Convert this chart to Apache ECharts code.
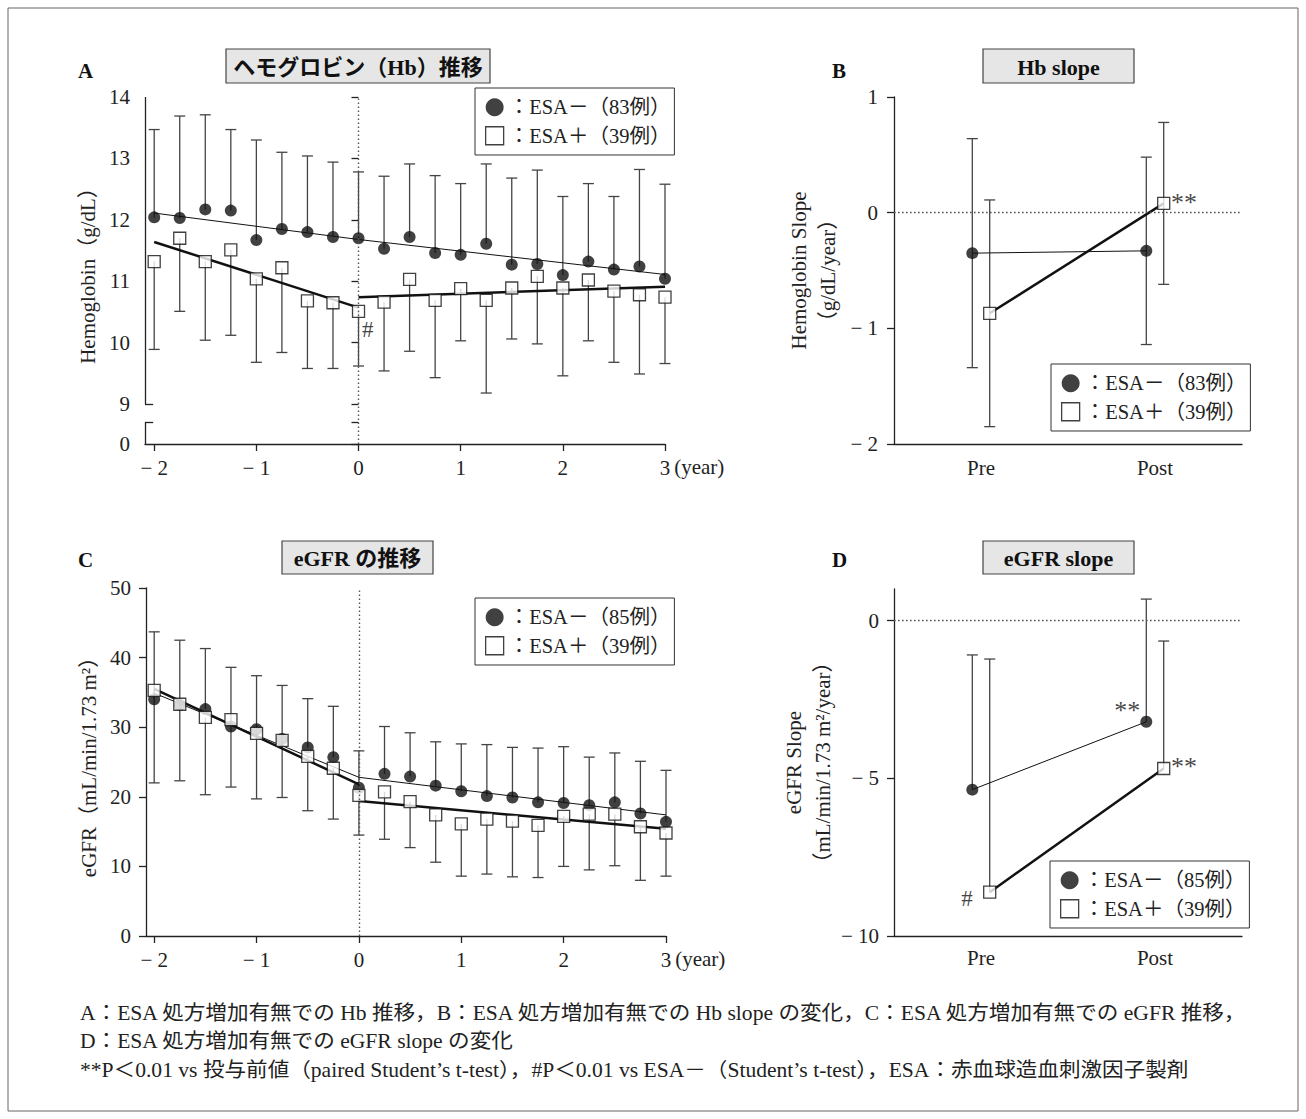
<!DOCTYPE html>
<html><head><meta charset="utf-8">
<script src="https://cdn.jsdelivr.net/npm/echarts@6.0.0/dist/echarts.min.js"></script>
<style>html,body{margin:0;padding:0;background:#fff}#c{width:1306px;height:1119px}</style>
</head><body><div id="c"></div>
<script>
// ---------------- data ----------------
const years = [-2,-1.75,-1.5,-1.25,-1,-0.75,-0.5,-0.25,0,0.25,0.5,0.75,1,1.25,1.5,1.75,2,2.25,2.5,2.75,3];
const yearTicks = [-2,-1,0,1,2,3];

const hbMinusMean = [12.04,12.03,12.17,12.15,11.67,11.85,11.80,11.72,11.70,11.53,11.72,11.46,11.43,11.61,11.27,11.28,11.10,11.32,11.19,11.24,11.04];
const hbMinusSD   = [1.43,1.66,1.54,1.32,1.63,1.25,1.24,1.22,1.08,1.18,1.19,1.26,1.16,1.30,1.41,1.53,1.28,1.27,1.19,1.58,1.54];
const hbPlusMean  = [11.32,11.70,11.32,11.51,11.04,11.22,10.68,10.65,10.51,10.66,11.03,10.69,10.88,10.69,10.89,11.08,10.89,11.02,10.84,10.78,10.74];
const hbPlusSD    = [1.43,1.19,1.28,1.39,1.36,1.38,1.10,1.07,0.89,1.12,1.17,1.26,0.85,1.51,0.83,1.10,1.43,0.99,1.16,1.29,1.08];
const hbTicks = [9,10,11,12,13,14];

const egfrMinusMean = [34.0,33.2,32.6,30.1,29.7,28.3,27.1,25.7,21.3,23.3,22.9,21.6,20.8,20.1,19.9,19.2,19.1,18.8,19.2,17.6,16.4];
const egfrMinusSD   = [9.7,9.3,8.7,8.5,7.7,7.7,7.0,7.3,5.3,6.8,6.3,6.3,6.8,7.4,7.2,7.8,8.1,6.9,7.1,7.5,7.4];
const egfrPlusMean  = [35.3,33.3,31.4,31.1,29.1,28.1,25.8,24.1,20.2,20.7,19.3,17.4,16.1,16.8,16.5,15.9,17.2,17.5,17.5,15.7,14.8];
const egfrPlusSD    = [13.3,11.0,11.1,9.7,9.4,8.2,7.8,7.3,5.7,6.8,6.6,6.8,7.5,7.9,8.0,7.5,7.2,8.0,7.4,7.7,6.2];

// regression lines (pre: -2..0, post: 0..3)
const fitPreX  = [-2, 0];
const fitPostX = [0, 3];
const hbMinusFitPre  = [12.11, 11.68];
const hbMinusFitPost = [11.68, 11.11];
const hbPlusFitPre   = [11.64, 10.57];
const hbPlusFitPost  = [10.74, 10.91];
const egfrMinusFitPre  = [34.9, 22.8];
const egfrMinusFitPost = [22.8, 17.4];
const egfrPlusFitPre   = [35.5, 21.8];
const egfrPlusFitPost  = [19.4, 15.4];

// slopes
const slopeCats = ['Pre', 'Post'];
const hbSlopeMinusMean = [-0.35, -0.33];
const hbSlopeMinusSD   = [0.99, 0.81];
const hbSlopePlusMean  = [-0.87, 0.08];
const hbSlopePlusSD    = [0.98, 0.70];
const egfrSlopeMinusMean = [-5.36, -3.21];
const egfrSlopeMinusSD   = [4.27, 3.89];
const egfrSlopePlusMean  = [-8.61, -4.69];
const egfrSlopePlusSD    = [7.39, 4.04];
const egfrSlopeTicks = [-10, -5, 0];

const nameHbMinus = 'ESA－（83例）';
const nameEgfrMinus = 'ESA－（85例）';
const namePlus = 'ESA＋（39例）';

// ---------------- styling helpers ----------------
const FONT = "'Liberation Serif','Noto Sans CJK JP',serif";
const INK = '#222';
const BAR = '#444';
const axisLS = { color: INK, width: 1.3 };
const lbl = { fontFamily: FONT, fontSize: 21, color: INK };
const DODGE = 0.05;
const HB_AXIS_MIN = 8.35;      // broken-axis bottom (shown as 0)
const HB_BREAK_TOP = 8.71;
const XA_MIN = -2.09, XC_MIN = -2.08;

function neg(v) { return v < 0 ? '− ' + Math.abs(v) : String(v); }

function errBar(dir) {
  return function (params, api) {
    const x = api.value(0), m = api.value(1), sd = api.value(2);
    const lo = (dir === 'up') ? m : m - sd;
    const hi = (dir === 'down') ? m : m + sd;
    const p0 = api.coord([x, lo]), p1 = api.coord([x, hi]);
    const st = { stroke: BAR, lineWidth: 1.3 };
    const ch = [{ type: 'line', shape: { x1: p0[0], y1: p0[1], x2: p1[0], y2: p1[1] }, style: st }];
    const h = 5.5;
    if (dir !== 'down') ch.push({ type: 'line', shape: { x1: p1[0] - h, y1: p1[1], x2: p1[0] + h, y2: p1[1] }, style: st });
    if (dir !== 'up') ch.push({ type: 'line', shape: { x1: p0[0] - h, y1: p0[1], x2: p0[0] + h, y2: p0[1] }, style: st });
    return { type: 'group', children: ch };
  };
}
function errSeries(id, gi, xs, mean, sd, dir) {
  return { type: 'custom', name: id, xAxisIndex: gi, yAxisIndex: gi, z: 2, silent: true,
    renderItem: errBar(dir), encode: { x: 0, y: 1 },
    data: xs.map((x, i) => [x, mean[i], sd[i]]) };
}
function fitSeries(id, gi, xs, ys, width, extra) {
  return Object.assign({ type: 'line', name: id, xAxisIndex: gi, yAxisIndex: gi, z: 3, silent: true,
    symbol: 'none', lineStyle: { color: '#111', width: width },
    data: xs.map((x, i) => [x, ys[i]]) }, extra || {});
}
const circleStyle = { color: '#111' };
const squareStyle = { color: '#fff', borderColor: '#111', borderWidth: 1.3 };
function markerSeries(name, gi, xs, ys, open, notes) {
  notes = notes || {};
  return { type: 'scatter', name: name, xAxisIndex: gi, yAxisIndex: gi, z: 4, silent: true,
    symbol: open ? 'rect' : 'circle', symbolSize: 12,
    itemStyle: open ? squareStyle : circleStyle,
    data: xs.map((x, i) => {
      const it = { value: [x, ys[i]] };
      if (notes[i]) it.label = { show: true, formatter: notes[i].text, position: notes[i].pos,
        align: 'center', verticalAlign: 'middle', fontFamily: FONT, fontSize: notes[i].size || 22, color: '#111' };
      return it;
    }) };
}
const dotted = { type: [1.6, 2.4], color: '#555', width: 1.4 };
function vLine0() {
  return { silent: true, symbol: ['none', 'none'], label: { show: false }, lineStyle: dotted, data: [{ xAxis: 0 }] };
}
function hLine0() {
  return { silent: true, symbol: ['none', 'none'], label: { show: false }, lineStyle: dotted, data: [{ yAxis: 0 }] };
}

const slopeXMinus = slopeCats.map((c, i) => i - DODGE);
const slopeXPlus  = slopeCats.map((c, i) => i + DODGE);

// ---------------- axes ----------------
function yearAxis(gi, min) {
  return { gridIndex: gi, type: 'value', min: min, max: 3,
    axisLine: { show: true, onZero: false, lineStyle: axisLS },
    axisTick: { show: true, length: 7, customValues: yearTicks, lineStyle: axisLS },
    axisLabel: Object.assign({ margin: 13, customValues: yearTicks, formatter: neg }, lbl),
    splitLine: { show: false },
    name: '(year)', nameLocation: 'end', nameGap: 6,
    nameTextStyle: Object.assign({ align: 'left', verticalAlign: 'top', padding: [13, 0, 0, 0] }, lbl) };
}
function slopeXAxis(gi, margin) {
  return { gridIndex: gi, type: 'value', min: -0.5, max: 1.5,
    axisLine: { show: true, onZero: false, lineStyle: axisLS },
    axisTick: { show: false },
    axisLabel: Object.assign({ margin: margin, customValues: [0, 1], formatter: v => slopeCats[v] }, lbl),
    splitLine: { show: false } };
}

const option = {
  animation: false,
  backgroundColor: '#fff',
  textStyle: { fontFamily: FONT },
  grid: [
    { left: 145, top: 97, width: 520, height: 347 },
    { left: 894, top: 97, width: 348, height: 347 },
    { left: 146, top: 588, width: 520, height: 348 },
    { left: 894, top: 589, width: 348, height: 347 }
  ],
  xAxis: [ yearAxis(0, XA_MIN), slopeXAxis(1, 13), yearAxis(2, XC_MIN), slopeXAxis(3, 11) ],
  yAxis: [
    { gridIndex: 0, type: 'value', min: HB_AXIS_MIN, max: 14,
      axisLine: { show: false },
      axisTick: { show: true, length: 7, customValues: [HB_AXIS_MIN, HB_BREAK_TOP].concat(hbTicks), lineStyle: axisLS },
      axisLabel: Object.assign({ margin: 15, customValues: [HB_AXIS_MIN].concat(hbTicks), formatter: v => (v < 9 ? '0' : String(v)) }, lbl),
      splitLine: { show: false },
      name: 'Hemoglobin（g/dL）', nameLocation: 'middle', nameGap: 47, nameTextStyle: lbl },
    { gridIndex: 1, type: 'value', min: -2, max: 1, interval: 1,
      axisLine: { show: true, onZero: false, lineStyle: axisLS },
      axisTick: { show: true, length: 7, lineStyle: axisLS },
      axisLabel: Object.assign({ margin: 16, formatter: neg }, lbl),
      splitLine: { show: false },
      name: 'Hemoglobin Slope\n（g/dL/year）', nameLocation: 'middle', nameGap: 52,
      nameTextStyle: Object.assign({ lineHeight: 29 }, lbl) },
    { gridIndex: 2, type: 'value', min: 0, max: 50, interval: 10,
      axisLine: { show: true, onZero: false, lineStyle: axisLS },
      axisTick: { show: true, length: 7, lineStyle: axisLS },
      axisLabel: Object.assign({ margin: 15 }, lbl),
      splitLine: { show: false },
      name: 'eGFR（mL/min/1.73 m²）', nameLocation: 'middle', nameGap: 47, nameTextStyle: lbl },
    { gridIndex: 3, type: 'value', min: -10, max: 1,
      axisLine: { show: true, onZero: false, lineStyle: axisLS },
      axisTick: { show: true, length: 7, customValues: egfrSlopeTicks, lineStyle: axisLS },
      axisLabel: Object.assign({ margin: 15, customValues: egfrSlopeTicks, formatter: neg }, lbl),
      splitLine: { show: false },
      name: 'eGFR Slope\n（mL/min/1.73 m²/year）', nameLocation: 'middle', nameGap: 51,
      nameTextStyle: Object.assign({ lineHeight: 29 }, lbl) }
  ],
  legend: [
    { left: 475, top: 88, data: [nameHbMinus, namePlus] },
    { left: 1051, top: 364, data: [nameHbMinus, namePlus] },
    { left: 475, top: 598, data: [nameEgfrMinus, namePlus] },
    { left: 1050, top: 861, data: [nameEgfrMinus, namePlus] }
  ].map(l => Object.assign({
    orient: 'vertical', itemWidth: 18, itemHeight: 18, itemGap: 8, padding: [9, 4, 9, 10],
    borderColor: '#333', borderWidth: 1, backgroundColor: '#fff', selectedMode: false,
    formatter: n => '：' + n, textStyle: Object.assign({}, lbl, { fontSize: 20.5 })
  }, l, { data: [
    { name: l.data[0], icon: 'circle', itemStyle: { color: '#111', borderWidth: 0 } },
    { name: l.data[1], icon: 'rect', itemStyle: { color: '#fff', borderColor: '#111', borderWidth: 1.3 } }
  ] })),
  series: [
    // ---- A ----
    errSeries('hbErrMinus', 0, years, hbMinusMean, hbMinusSD, 'up'),
    errSeries('hbErrPlus', 0, years, hbPlusMean, hbPlusSD, 'down'),
    fitSeries('hbFitMinusPre', 0, fitPreX, hbMinusFitPre, 1, { markLine: vLine0() }),
    fitSeries('hbFitMinusPost', 0, fitPostX, hbMinusFitPost, 1, {
      markLine: { silent: true, symbol: ['none', 'none'], label: { show: false },
        lineStyle: { type: 'solid', color: INK, width: 1.3 },
        data: [
          [{ coord: [XA_MIN, 9] }, { coord: [XA_MIN, 14] }],
          [{ coord: [XA_MIN, HB_AXIS_MIN] }, { coord: [XA_MIN, HB_BREAK_TOP] }],
          [{ coord: [XA_MIN, 9] }, { coord: [XA_MIN + 0.08, 9] }],
          [{ coord: [XA_MIN, HB_BREAK_TOP] }, { coord: [XA_MIN + 0.08, HB_BREAK_TOP] }]
        ] } }),
    fitSeries('hbFitPlusPre', 0, fitPreX, hbPlusFitPre, 2.5),
    fitSeries('hbFitPlusPost', 0, fitPostX, hbPlusFitPost, 2.5),
    markerSeries(nameHbMinus, 0, years, hbMinusMean, false),
    markerSeries(namePlus, 0, years, hbPlusMean, true, { 8: { text: '#', pos: [16, 25], size: 23 } }),
    // ---- B ----
    errSeries('hbSlopeErrMinus', 1, slopeXMinus, hbSlopeMinusMean, hbSlopeMinusSD, 'both'),
    errSeries('hbSlopeErrPlus', 1, slopeXPlus, hbSlopePlusMean, hbSlopePlusSD, 'both'),
    fitSeries('hbSlopeLineMinus', 1, slopeXMinus, hbSlopeMinusMean, 1, { markLine: hLine0() }),
    fitSeries('hbSlopeLinePlus', 1, slopeXPlus, hbSlopePlusMean, 2.5),
    markerSeries(nameHbMinus, 1, slopeXMinus, hbSlopeMinusMean, false),
    markerSeries(namePlus, 1, slopeXPlus, hbSlopePlusMean, true, { 1: { text: '**', pos: [27, 6], size: 26 } }),
    // ---- C ----
    errSeries('egfrErrMinus', 2, years, egfrMinusMean, egfrMinusSD, 'up'),
    errSeries('egfrErrPlus', 2, years, egfrPlusMean, egfrPlusSD, 'down'),
    fitSeries('egfrFitMinusPre', 2, fitPreX, egfrMinusFitPre, 1, { markLine: vLine0() }),
    fitSeries('egfrFitMinusPost', 2, fitPostX, egfrMinusFitPost, 1),
    fitSeries('egfrFitPlusPre', 2, fitPreX, egfrPlusFitPre, 2.5),
    fitSeries('egfrFitPlusPost', 2, fitPostX, egfrPlusFitPost, 2.5),
    markerSeries(nameEgfrMinus, 2, years, egfrMinusMean, false),
    markerSeries(namePlus, 2, years, egfrPlusMean, true),
    // ---- D ----
    errSeries('egfrSlopeErrMinus', 3, slopeXMinus, egfrSlopeMinusMean, egfrSlopeMinusSD, 'up'),
    errSeries('egfrSlopeErrPlus', 3, slopeXPlus, egfrSlopePlusMean, egfrSlopePlusSD, 'up'),
    fitSeries('egfrSlopeLineMinus', 3, slopeXMinus, egfrSlopeMinusMean, 1, { markLine: hLine0() }),
    fitSeries('egfrSlopeLinePlus', 3, slopeXPlus, egfrSlopePlusMean, 2.5),
    markerSeries(nameEgfrMinus, 3, slopeXMinus, egfrSlopeMinusMean, false, { 1: { text: '**', pos: [-13, -5], size: 26 } }),
    markerSeries(namePlus, 3, slopeXPlus, egfrSlopePlusMean, true, { 0: { text: '#', pos: [-16, 13], size: 23 }, 1: { text: '**', pos: [27, 5], size: 26 } })
  ],
  graphic: { elements: [
    { type: 'rect', shape: { x: 8, y: 8, width: 1290, height: 1103 }, style: { fill: 'none', stroke: '#666', lineWidth: 1 }, silent: true },
    ...[
      { x: 226, y: 49, w: 264, h: 34, t: 'ヘモグロビン（Hb）推移' },
      { x: 983, y: 49, w: 151, h: 34, t: 'Hb slope' },
      { x: 282, y: 541, w: 151, h: 33, t: 'eGFR の推移' },
      { x: 983, y: 541, w: 151, h: 33, t: 'eGFR slope' }
    ].flatMap(b => [
      { type: 'rect', shape: { x: b.x, y: b.y, width: b.w, height: b.h }, style: { fill: '#e6e6e6', stroke: '#444', lineWidth: 1.2 }, silent: true },
      { type: 'text', x: b.x + b.w / 2, y: b.y + b.h / 2 + 1, silent: true,
        style: { text: b.t, align: 'center', verticalAlign: 'middle', fontFamily: FONT, fontWeight: 'bold', fontSize: 22, fill: '#111' } }
    ]),
    ...[['A', 78, 71], ['B', 832, 71], ['C', 78, 560], ['D', 832, 560]].map(p => ({
      type: 'text', x: p[1], y: p[2], silent: true,
      style: { text: p[0], verticalAlign: 'middle', fontFamily: FONT, fontWeight: 'bold', fontSize: 21, fill: '#111' } })),
    ...[
      'A：ESA 処方増加有無での Hb 推移，B：ESA 処方増加有無での Hb slope の変化，C：ESA 処方増加有無での eGFR 推移，',
      'D：ESA 処方増加有無での eGFR slope の変化',
      '**P＜0.01 vs 投与前値（paired Student’s t-test），#P＜0.01 vs ESA－（Student’s t-test），ESA：赤血球造血刺激因子製剤'
    ].map((t, i) => ({ type: 'text', x: 80, y: 1013 + i * 28.5, scaleX: 1.08, silent: true,
      style: { text: t, verticalAlign: 'middle', fontFamily: FONT, fontSize: 20, fill: INK } }))
  ] }
};

const chart = echarts.init(document.getElementById('c'), null, { renderer: 'svg' });
chart.setOption(option);
</script>
</body></html>
